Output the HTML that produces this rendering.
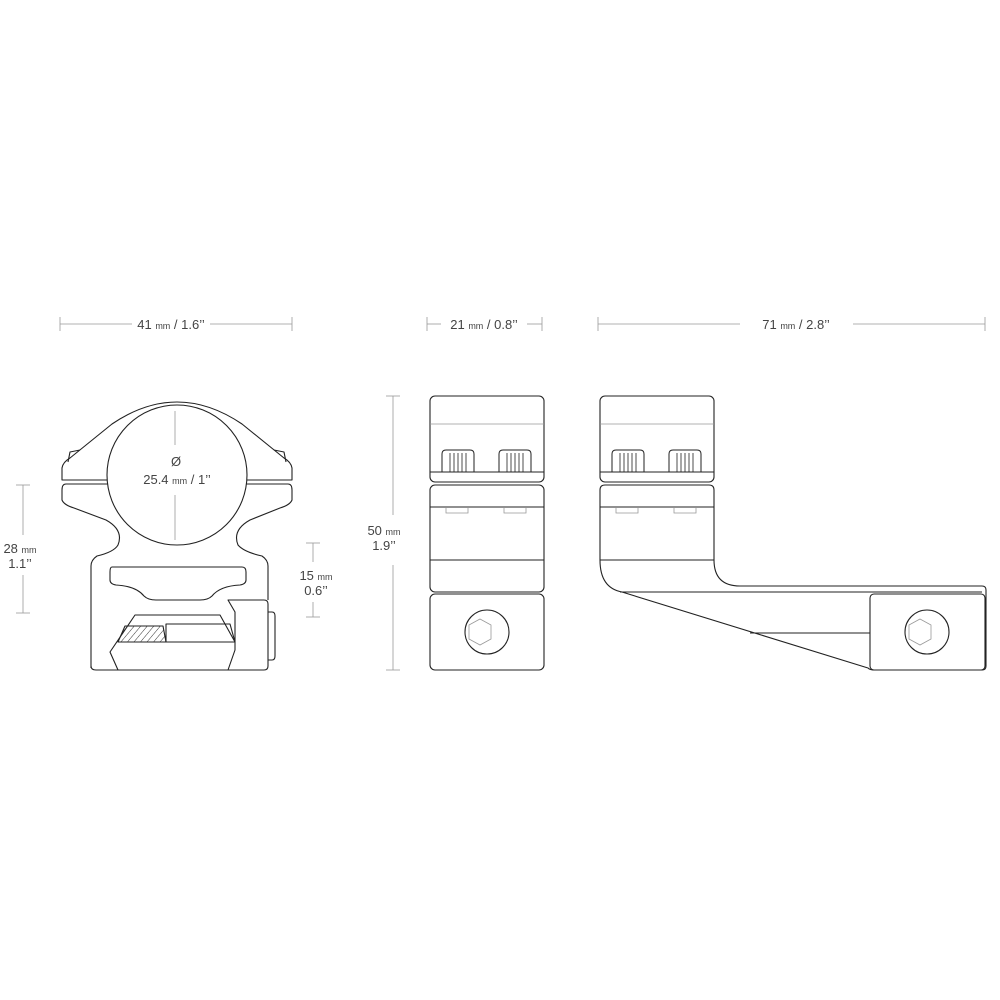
<!DOCTYPE html>
<html><head><meta charset="utf-8"><style>
html,body{margin:0;padding:0;background:#fff;}
svg{display:block}
text{font-family:"Liberation Sans",sans-serif;fill:#444;}
</style></head><body>
<svg width="1000" height="1000" viewBox="0 0 1000 1000" xmlns="http://www.w3.org/2000/svg">
<defs>
<pattern id="h" width="5" height="5" patternUnits="userSpaceOnUse" patternTransform="rotate(40)">
<line x1="0" y1="0" x2="0" y2="5" stroke="#333" stroke-width="1"/>
</pattern>
</defs>
<g stroke="#222" stroke-width="1.1" fill="none" stroke-linejoin="round">
<!-- front view cap -->
<path d="M62 480 L62 468 Q63 462 70 458 L112 424 Q177 380 242 424 L284 458 Q291 462 292 468 L292 480 Z"/>
<path d="M68 462 L70 452 L80 450 M286 462 L284 452 L274 450"/>
<!-- lower body -->
<path d="M66 484 L288 484 Q292 484 292 490 L292 500 Q290 505 280 508 L250 520 Q232 530 238 545 Q244 552 262 556 Q268 560 268 566 L268 600 M228 670 L104 670 M91 668 L91 566 Q91 560 97 556 Q114 552 118 545 Q124 530 106 520 L74 508 Q64 505 62 500 L62 490 Q62 484 66 484"/>
<circle cx="177" cy="475" r="70" fill="#fff"/>
<path d="M91 666 Q91 670 96 670 L118 670 L110 652 L135 615 L220 615 L235 642"/>
<path d="M228 600 L235 612 L235 650 L228 670 L264 670 Q268 670 268 666 L268 604 Q268 600 264 600 Z"/>
<path d="M268 612 L272 612 Q275 612 275 616 L275 656 Q275 660 272 660 L268 660"/>
<path d="M112 567 L242 567 Q246 567 246 572 L246 580 Q246 584 240 585 Q220 586 212 596 Q208 600 200 600 L156 600 Q148 600 144 596 Q136 586 116 585 Q110 584 110 580 L110 572 Q110 567 112 567 Z"/>
<path d="M166 624 L230 624 L235 642 L166 642 Z"/>
<path d="M125 626 L163 626 L166 642 L118 642 Z" fill="url(#h)"/>
<!-- middle view -->
<rect x="430" y="396" width="114" height="86" rx="5"/>
<rect x="430" y="485" width="114" height="107" rx="5"/>
<rect x="430" y="594" width="114" height="76" rx="5"/>
<line x1="430" y1="472" x2="544" y2="472"/>
<line x1="430" y1="507" x2="544" y2="507"/>
<line x1="430" y1="560" x2="544" y2="560"/>
<circle cx="487" cy="632" r="22"/>
<!-- right view -->
<rect x="600" y="396" width="114" height="86" rx="5"/>
<path d="M600 560 L600 490 Q600 485 605 485 L709 485 Q714 485 714 490 L714 560 Q714 586 740 586 L982 586 Q986 586 986 590 L986 666 Q986 670 982 670 L874 670 Q870 670 868 668 L622 592 Q600 588 600 560"/>
<line x1="600" y1="472" x2="714" y2="472"/>
<line x1="600" y1="507" x2="714" y2="507"/>
<line x1="600" y1="560" x2="714" y2="560"/>
<line x1="620" y1="592" x2="982" y2="592"/>
<rect x="870" y="594" width="115" height="76" rx="4"/>
<line x1="750" y1="633" x2="870" y2="633"/>
<circle cx="927" cy="632" r="22"/>
</g>
<g stroke="#999" stroke-width="0.8" fill="none">
<!-- top dims -->
<line x1="60" y1="324" x2="132" y2="324"/><line x1="210" y1="324" x2="292" y2="324"/>
<line x1="60" y1="317" x2="60" y2="331"/><line x1="292" y1="317" x2="292" y2="331"/>
<line x1="427" y1="324" x2="441" y2="324"/><line x1="527" y1="324" x2="542" y2="324"/>
<line x1="427" y1="317" x2="427" y2="331"/><line x1="542" y1="317" x2="542" y2="331"/>
<line x1="598" y1="324" x2="740" y2="324"/><line x1="853" y1="324" x2="985" y2="324"/>
<line x1="598" y1="317" x2="598" y2="331"/><line x1="985" y1="317" x2="985" y2="331"/>
<!-- vertical dims -->
<line x1="23" y1="485" x2="23" y2="535"/><line x1="23" y1="575" x2="23" y2="613"/>
<line x1="16" y1="485" x2="30" y2="485"/><line x1="16" y1="613" x2="30" y2="613"/>
<line x1="313" y1="543" x2="313" y2="562"/><line x1="313" y1="602" x2="313" y2="617"/>
<line x1="306" y1="543" x2="320" y2="543"/><line x1="306" y1="617" x2="320" y2="617"/>
<line x1="393" y1="396" x2="393" y2="515"/><line x1="393" y1="565" x2="393" y2="670"/>
<line x1="386" y1="396" x2="400" y2="396"/><line x1="386" y1="670" x2="400" y2="670"/>
<line x1="175" y1="411" x2="175" y2="445"/><line x1="175" y1="495" x2="175" y2="540"/>
<line x1="430" y1="424" x2="544" y2="424"/><line x1="600" y1="424" x2="714" y2="424"/>
<polygon points="480,619 491,625 491,639 480,645 469,639 469,625"/>
<polygon points="920,619 931,625 931,639 920,645 909,639 909,625"/>
<path d="M446 508 v5 h22 v-5 M504 508 v5 h22 v-5 M616 508 v5 h22 v-5 M674 508 v5 h22 v-5"/>
</g>
<g font-size="13">
<text x="171" y="329" text-anchor="middle">41 <tspan font-size="9">mm</tspan> / 1.6’’</text>
<text x="484" y="329" text-anchor="middle">21 <tspan font-size="9">mm</tspan> / 0.8’’</text>
<text x="796" y="329" text-anchor="middle">71 <tspan font-size="9">mm</tspan> / 2.8’’</text>
<text x="176" y="466" text-anchor="middle">Ø</text>
<text x="177" y="484" text-anchor="middle">25.4 <tspan font-size="9">mm</tspan> / 1’’</text>
<text x="20" y="553" text-anchor="middle">28 <tspan font-size="9">mm</tspan></text>
<text x="20" y="568" text-anchor="middle">1.1’’</text>
<text x="316" y="580" text-anchor="middle">15 <tspan font-size="9">mm</tspan></text>
<text x="316" y="595" text-anchor="middle">0.6’’</text>
<text x="384" y="535" text-anchor="middle">50 <tspan font-size="9">mm</tspan></text>
<text x="384" y="550" text-anchor="middle">1.9’’</text>
</g>
<g stroke="#222" stroke-width="1" fill="none">
<path d="M442 472 v-18 q0-4 4-4 h24 q4 0 4 4 v18 M499 472 v-18 q0-4 4-4 h24 q4 0 4 4 v18 M612 472 v-18 q0-4 4-4 h24 q4 0 4 4 v18 M669 472 v-18 q0-4 4-4 h24 q4 0 4 4 v18"/>
<path stroke-width="0.8" d="M450 453v19M454 453v19M458 453v19M462 453v19M466 453v19 M507 453v19M511 453v19M515 453v19M519 453v19M523 453v19 M620 453v19M624 453v19M628 453v19M632 453v19M636 453v19 M677 453v19M681 453v19M685 453v19M689 453v19M693 453v19"/>
</g>
</svg>
</body></html>
